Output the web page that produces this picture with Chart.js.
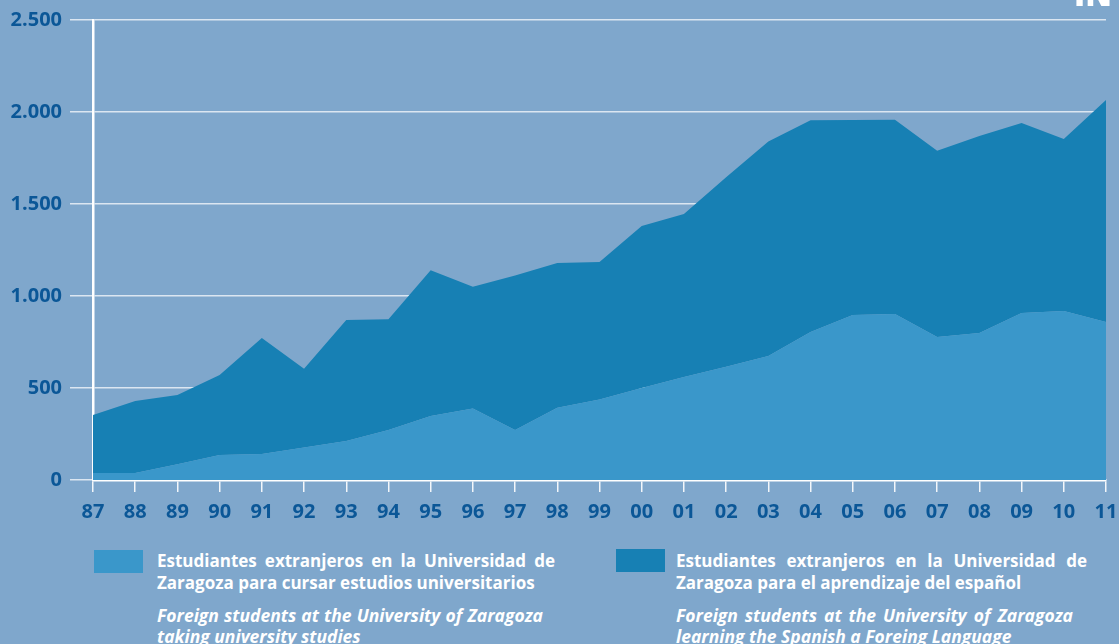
<!DOCTYPE html>
<html>
<head>
<meta charset="utf-8">
<script src="https://cdn.jsdelivr.net/npm/chart.js@4/dist/chart.umd.min.js"></script>
<style>
  html, body { margin: 0; padding: 0; background: #7fa7cc; }
  #wrap { position: relative; width: 1119px; height: 644px; overflow: hidden; background: #7fa7cc; }
  #c { position: absolute; left: 0; top: 0; }
  .ln { position: absolute; color: #ffffff; font-family: "Open Sans", sans-serif; font-weight: 700; font-size: 17px; line-height: 20px; white-space: nowrap; }
  .j { text-align: justify; text-align-last: justify; white-space: normal; }
  .it { font-style: italic; font-size: 17.5px; }
  .box { position: absolute; width: 49px; height: 23px; }
  #corner { position: absolute; left: 1074px; top: -22px; color: #fff; font-family: "Open Sans", sans-serif; font-weight: 800; font-size: 32px; line-height: 32px; }
</style>
</head>
<body>
<div id="wrap">
  <canvas id="c" width="1119" height="530"></canvas>
  <div id="corner">IN</div>
  <div class="box" style="left:94px;top:550px;background:#3a97ca"></div>
  <div class="ln j" style="left:157px;top:551px;width:398px">Estudiantes extranjeros en la Universidad de</div>
  <div class="ln" style="left:157px;top:573px">Zaragoza para cursar estudios universitarios</div>
  <div class="ln it j" style="left:157px;top:605px;width:386px">Foreign students at the University of Zaragoza</div>
  <div class="ln it" style="left:157px;top:626px">taking university studies</div>
  <div class="box" style="left:616px;top:549px;background:#1780b4"></div>
  <div class="ln j" style="left:676px;top:551px;width:411px">Estudiantes extranjeros en la Universidad de</div>
  <div class="ln" style="left:676px;top:573px">Zaragoza para el aprendizaje del español</div>
  <div class="ln it j" style="left:676px;top:605px;width:397px">Foreign students at the University of Zaragoza</div>
  <div class="ln it" style="left:676px;top:626px">learning the Spanish a Foreing Language</div>
</div>
<script>
const years = ['87','88','89','90','91','92','93','94','95','96','97','98','99','00','01','02','03','04','05','06','07','08','09','10','11'];
const universityStudies = [38,38,85,136,141,176,212,272,348,388,272,393,437,500,560,616,674,804,897,902,777,799,908,918,859];
const spanishLearning = [315,392,377,435,631,429,658,601,792,662,840,787,748,880,886,1029,1166,1151,1060,1056,1013,1071,1032,935,1206];
const yTickLabels = ['0','500','1.000','1.500','2.000','2.500'];
const seriesNames = ['Estudiantes extranjeros para cursar estudios universitarios','Estudiantes extranjeros para el aprendizaje del español'];

const labelColor = '#0b5797';
const tickFont = { family: '"Open Sans", sans-serif', weight: '700', size: 20 };

new Chart(document.getElementById('c'), {
  type: 'line',
  data: {
    labels: years,
    datasets: [
      { label: seriesNames[0], data: universityStudies, fill: 'origin', backgroundColor: '#3a97ca', borderWidth: 0, pointRadius: 0, tension: 0 },
      { label: seriesNames[1], data: spanishLearning, fill: '-1', backgroundColor: '#1780b4', borderWidth: 0, pointRadius: 0, tension: 0 }
    ]
  },
  options: {
    responsive: false,
    animation: false,
    events: [],
    layout: { padding: { top: 20, right: 13, left: 0, bottom: 0 } },
    plugins: { legend: { display: false }, tooltip: { enabled: false } },
    scales: {
      x: {
        z: 1,
        offset: false,
        grid: { drawOnChartArea: false, drawTicks: true, tickLength: 12, color: 'rgba(255,255,255,0.9)', lineWidth: 1.5 },
        border: { display: true, color: '#ffffff', width: 2.5 },
        ticks: { autoSkip: false, maxRotation: 0, color: labelColor, font: tickFont, padding: 8 },
        afterFit: s => { s.height = 50; s.paddingLeft = 0; s.paddingRight = 0; }
      },
      y: {
        z: 1,
        stacked: true,
        min: 0, max: 2500,
        grid: { drawOnChartArea: true, drawTicks: true, tickLength: 23, color: 'rgba(255,255,255,0.72)', lineWidth: 1.5 },
        border: { display: true, color: '#ffffff', width: 2.5 },
        ticks: { stepSize: 500, color: labelColor, font: tickFont, padding: 8,
                 callback: (v) => yTickLabels[Math.round(v / 500)] },
        afterFit: s => { s.width = 93; s.paddingTop = 0; s.paddingBottom = 0; }
      }
    }
  }
});
</script>
</body>
</html>
